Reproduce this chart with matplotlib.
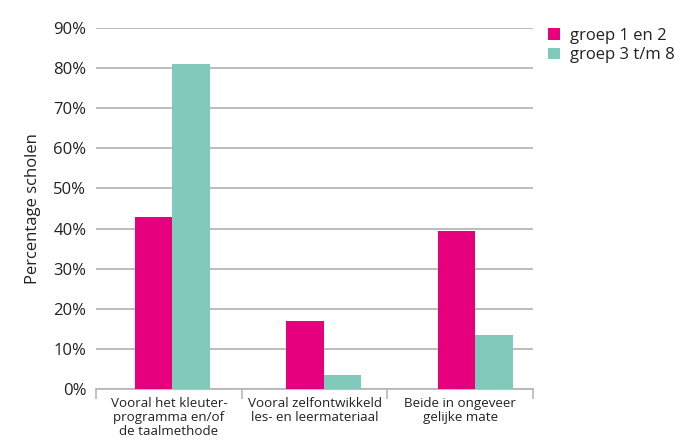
import matplotlib
matplotlib.use("Agg")
import matplotlib.pyplot as plt
import numpy as np

categories = [
    "Vooral het kleuter-\nprogramma en/of\nde taalmethode",
    "Vooral zelfontwikkeld\nles- en leermateriaal",
    "Beide in ongeveer\ngelijke mate",
]
series_names = ["groep 1 en 2", "groep 3 t/m 8"]
groep_1_2 = [43.0, 17.0, 39.3]
groep_3_8 = [81.0, 3.5, 13.5]
y_ticks = [0, 10, 20, 30, 40, 50, 60, 70, 80, 90]
y_tick_labels = [f"{v}%" for v in y_ticks]

pink = "#E6007E"
teal = "#80C9BB"
grid_gray = "#B8B8B8"
text_col = "#222222"

plt.rcParams["font.family"] = ["Open Sans", "DejaVu Sans"]

fig = plt.figure(figsize=(6.74, 4.40), dpi=100)
ax = fig.add_axes([96 / 674, 51 / 440, 437 / 674, 361 / 440])

n = len(categories)
idx = np.arange(n)
bar_w = 0.257
group_pos = idx * 1.04 + 0.024

ax.bar(group_pos - bar_w / 2, groep_1_2, width=bar_w, color=pink, label=series_names[0], zorder=3)
ax.bar(group_pos + bar_w / 2, groep_3_8, width=bar_w, color=teal, label=series_names[1], zorder=3)

ax.set_xlim(-0.5, n - 0.5)
ax.set_ylim(0, 90)

# horizontal gridlines
ax.set_yticks(y_ticks)
ax.set_yticklabels(y_tick_labels, fontsize=12, color=text_col)
ax.tick_params(axis="y", length=0, pad=7)
ax.yaxis.grid(True, color=grid_gray, linewidth=1.3, zorder=0)
ax.set_axisbelow(True)

# category boundaries as major ticks, labels on minor ticks
ax.set_xticks(np.arange(-0.5, n, 1.0))
ax.set_xticklabels([])
ax.tick_params(axis="x", which="major", length=7, width=1.2, color=grid_gray, direction="out")
ax.set_xticks(idx, minor=True)
ax.set_xticklabels(categories, minor=True, fontsize=9.6, color=text_col, linespacing=1.1)
ax.tick_params(axis="x", which="minor", length=0, pad=6)

for s in ["top", "right", "left"]:
    ax.spines[s].set_visible(False)
ax.spines["bottom"].set_color(grid_gray)
ax.spines["bottom"].set_linewidth(1.3)

ax.set_ylabel("Percentage scholen", fontsize=12, color=text_col, labelpad=9)

ax.legend(
    loc="upper left",
    bbox_to_anchor=(548 / 674, 1 - 28 / 440),
    bbox_transform=fig.transFigure,
    frameon=False,
    fontsize=12,
    handlelength=0.7,
    handleheight=0.7,
    handletextpad=0.6,
    borderaxespad=0,
    borderpad=0,
    labelspacing=0.2,
    labelcolor=text_col,
)

fig.savefig("out.png", dpi=100)
